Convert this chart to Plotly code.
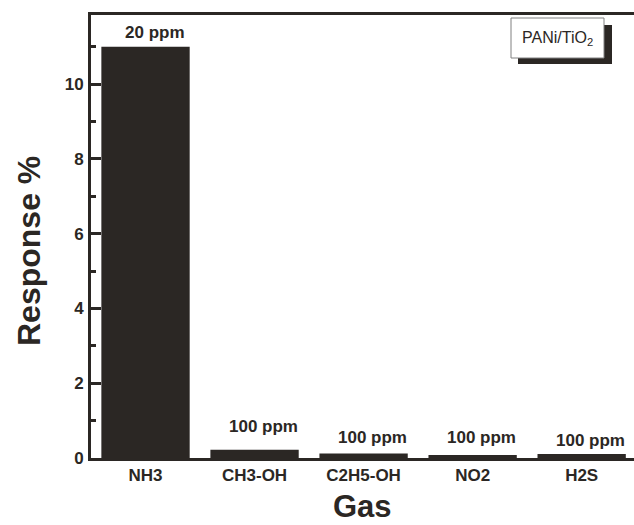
import plotly.graph_objects as go

# Gas sensing response of PANi/TiO2 film
gases = ["NH3", "CH3-OH", "C2H5-OH", "NO2", "H2S"]
response = [11.0, 0.22, 0.12, 0.08, 0.11]
concentration = ["20 ppm", "100 ppm", "100 ppm", "100 ppm", "100 ppm"]

y_ticks = [0, 2, 4, 6, 8, 10]

INK = "#2b2724"
FONT = "Liberation Sans, Arial, sans-serif"

fig = go.Figure()
fig.add_trace(go.Bar(
    x=gases, y=response, width=0.81,
    marker=dict(color=INK, line=dict(width=0)),
    showlegend=False,
))

# concentration labels above each bar (heights in data units)
label_heights = [11.38, 0.83, 0.56, 0.56, 0.48]
for g, txt, h in zip(gases, concentration, label_heights):
    fig.add_annotation(x=g, y=h, text=txt, showarrow=False, xshift=9,
                       xanchor="center", yanchor="middle",
                       font=dict(family=FONT, size=17, color=INK, weight="bold"))

# pixel layout converted to paper units
PL, PW, PB, PH = 91, 543, 458, 443
def px(x):
    return (x - PL) / PW
def py(y):
    return (PB - y) / PH

# sample label box with drop shadow
fig.add_shape(type="rect", xref="paper", yref="paper",
              x0=px(518), x1=px(612), y0=py(64), y1=py(25),
              fillcolor=INK, line=dict(width=0))
fig.add_shape(type="rect", xref="paper", yref="paper",
              x0=px(511), x1=px(604), y0=py(58), y1=py(18),
              fillcolor="white", line=dict(color="#808080", width=1))
fig.add_annotation(xref="paper", yref="paper",
                   x=px(557), y=py(38), xanchor="center", yanchor="middle",
                   text="PANi/TiO<sub>2</sub>", showarrow=False,
                   font=dict(family=FONT, size=16, color=INK))

# axis titles
fig.add_annotation(xref="paper", yref="paper",
                   x=px(29), y=py(251), xanchor="center", yanchor="middle",
                   text="Response %", textangle=-90, showarrow=False,
                   font=dict(family=FONT, size=32, color=INK, weight="bold"))
fig.add_annotation(xref="paper", yref="paper",
                   x=px(362), y=py(506), xanchor="center", yanchor="middle",
                   text="Gas", showarrow=False,
                   font=dict(family=FONT, size=31, color=INK, weight="bold"))

fig.update_layout(
    width=634, height=525,
    margin=dict(l=91, r=0, t=15, b=67),
    paper_bgcolor="white", plot_bgcolor="white",
    font=dict(family=FONT, color=INK),
)
fig.update_xaxes(
    range=[-0.5, 4.48], automargin=False,
    showline=True, linecolor=INK, linewidth=3, mirror=True,
    ticks="", showgrid=False,
    tickfont=dict(size=17, weight="bold", color=INK),
)
fig.update_yaxes(
    range=[0, 11.85], automargin=False,
    tickvals=y_ticks, ticktext=[str(v) for v in y_ticks],
    showline=True, linecolor=INK, linewidth=3,
    ticks="inside", ticklen=10, tickwidth=2.5, tickcolor=INK,
    minor=dict(dtick=1, tick0=1, ticks="inside", ticklen=5, tickwidth=2.5, tickcolor=INK),
    showgrid=False, zeroline=False,
    tickfont=dict(size=17, weight="bold", color=INK),
    ticklabelstandoff=1,
)

fig.write_html("out.html")
